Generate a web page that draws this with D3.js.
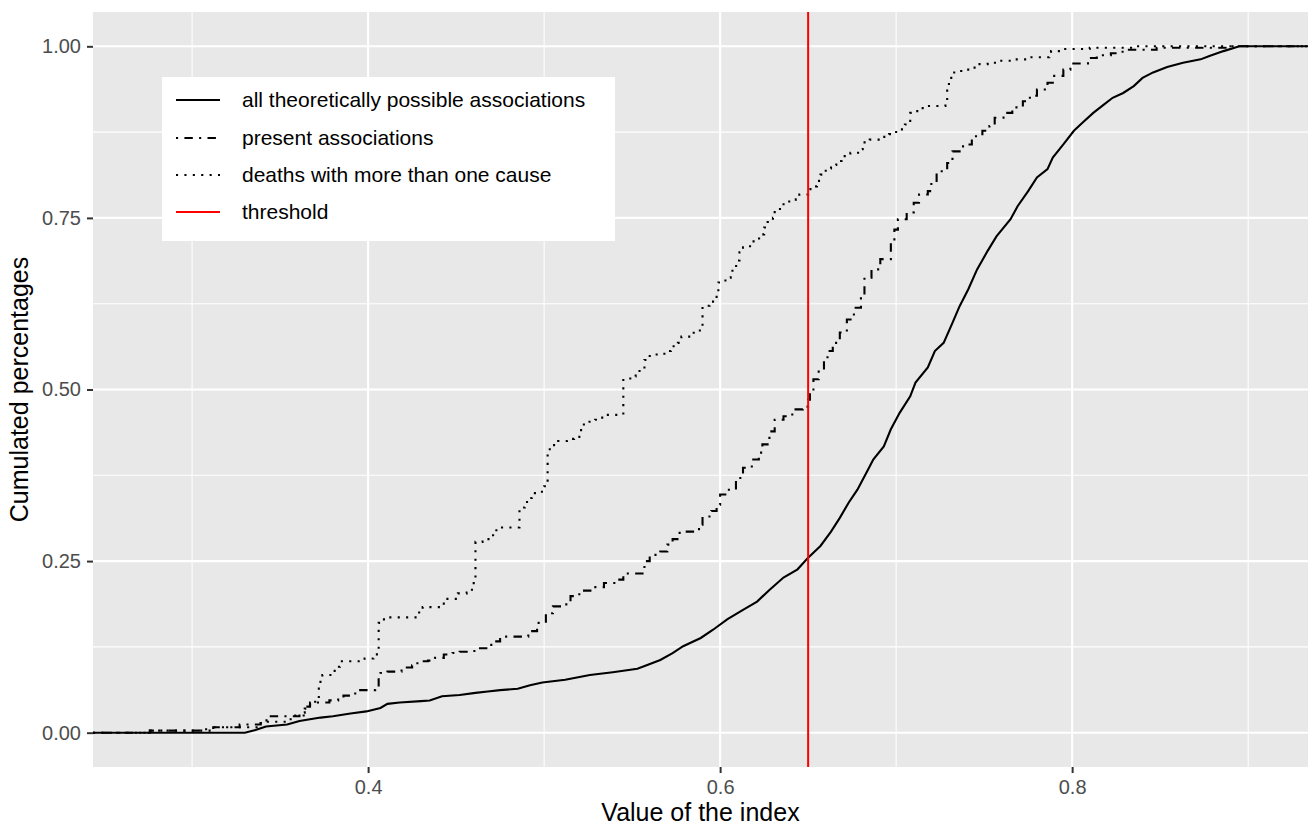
<!DOCTYPE html>
<html>
<head>
<meta charset="utf-8">
<script src="https://cdn.jsdelivr.net/npm/d3@7"></script>
<style>
  body { margin: 0; background: #fff; }
  text { font-family: "Liberation Sans", Arial, Helvetica, sans-serif; }
</style>
</head>
<body>
<script>
// ecdf of the index as [value, cumulated share]
const allAssociations = [
  [0.330,0],[0.336,0.004],[0.342,0.009],[0.354,0.012],[0.361,0.017],[0.373,0.022],[0.380,0.024],
  [0.390,0.028],[0.399,0.031],[0.407,0.036],[0.411,0.042],[0.418,0.044],[0.430,0.046],[0.435,0.047],
  [0.442,0.053],[0.452,0.055],[0.461,0.058],[0.468,0.060],[0.475,0.062],[0.485,0.064],[0.492,0.069],
  [0.499,0.073],[0.512,0.077],[0.526,0.084],[0.539,0.088],[0.553,0.093],[0.559,0.099],[0.566,0.106],
  [0.573,0.116],[0.579,0.126],[0.589,0.138],[0.596,0.150],[0.604,0.165],[0.613,0.179],[0.621,0.191],
  [0.628,0.208],[0.636,0.226],[0.644,0.238],[0.650,0.255],[0.657,0.272],[0.663,0.293],[0.668,0.313],
  [0.673,0.335],[0.678,0.354],[0.684,0.383],[0.687,0.398],[0.693,0.417],[0.697,0.442],[0.702,0.466],
  [0.708,0.490],[0.711,0.510],[0.718,0.532],[0.722,0.556],[0.727,0.568],[0.732,0.597],[0.736,0.621],
  [0.741,0.646],[0.746,0.675],[0.752,0.702],[0.757,0.723],[0.765,0.748],[0.769,0.767],[0.775,0.789],
  [0.780,0.809],[0.786,0.821],[0.789,0.838],[0.795,0.857],[0.801,0.877],[0.806,0.889],[0.812,0.903],
  [0.818,0.915],[0.823,0.925],[0.829,0.932],[0.835,0.942],[0.840,0.954],[0.846,0.962],[0.854,0.970],
  [0.863,0.976],[0.873,0.981],[0.878,0.986],[0.886,0.993],[0.895,1.000]
];

const presentAssociations = [
  [0.276,0.003],[0.305,0.005],[0.312,0.008],[0.327,0.012],[0.339,0.018],[0.344,0.024],[0.361,0.029],
  [0.364,0.038],[0.367,0.044],[0.378,0.047],[0.383,0.051],[0.386,0.054],[0.391,0.057],[0.394,0.062],
  [0.404,0.067],[0.406,0.080],[0.407,0.087],[0.411,0.089],[0.419,0.095],[0.425,0.098],[0.428,0.104],
  [0.434,0.105],[0.438,0.109],[0.443,0.114],[0.448,0.116],[0.452,0.118],[0.458,0.119],[0.462,0.123],
  [0.468,0.128],[0.471,0.133],[0.475,0.140],[0.491,0.148],[0.496,0.160],[0.501,0.174],[0.505,0.184],
  [0.510,0.187],[0.515,0.199],[0.520,0.207],[0.528,0.212],[0.534,0.218],[0.541,0.223],[0.545,0.232],
  [0.557,0.250],[0.560,0.259],[0.566,0.264],[0.570,0.274],[0.573,0.282],[0.577,0.293],[0.588,0.303],
  [0.590,0.315],[0.595,0.323],[0.598,0.332],[0.600,0.347],[0.604,0.354],[0.609,0.371],[0.613,0.386],
  [0.618,0.398],[0.622,0.408],[0.624,0.420],[0.628,0.439],[0.631,0.456],[0.636,0.461],[0.641,0.471],
  [0.647,0.475],[0.650,0.485],[0.651,0.500],[0.653,0.515],[0.656,0.529],[0.659,0.544],[0.661,0.556],
  [0.664,0.568],[0.668,0.583],[0.672,0.602],[0.676,0.619],[0.680,0.636],[0.682,0.663],[0.686,0.675],
  [0.691,0.690],[0.697,0.714],[0.699,0.733],[0.701,0.748],[0.706,0.758],[0.710,0.772],[0.713,0.784],
  [0.718,0.789],[0.720,0.804],[0.723,0.818],[0.729,0.830],[0.732,0.847],[0.738,0.857],[0.743,0.869],
  [0.749,0.877],[0.753,0.884],[0.756,0.896],[0.761,0.903],[0.766,0.911],[0.772,0.920],[0.776,0.928],
  [0.780,0.937],[0.786,0.947],[0.789,0.957],[0.795,0.966],[0.799,0.975],[0.809,0.983],[0.814,0.987],
  [0.822,0.990],[0.827,0.992],[0.831,0.995],[0.848,0.998],[0.890,1.000]
];

const deathsMultiCause = [
  [0.276,0.003],[0.312,0.008],[0.339,0.016],[0.356,0.025],[0.364,0.035],[0.367,0.045],[0.372,0.060],
  [0.372,0.074],[0.374,0.084],[0.381,0.096],[0.384,0.104],[0.398,0.108],[0.403,0.111],[0.405,0.120],
  [0.406,0.160],[0.409,0.168],[0.428,0.175],[0.431,0.183],[0.441,0.185],[0.443,0.195],[0.451,0.203],
  [0.456,0.204],[0.459,0.211],[0.460,0.223],[0.461,0.278],[0.465,0.282],[0.471,0.295],[0.475,0.299],
  [0.486,0.328],[0.489,0.336],[0.492,0.342],[0.493,0.349],[0.498,0.351],[0.500,0.359],[0.502,0.413],
  [0.505,0.419],[0.508,0.425],[0.513,0.428],[0.517,0.431],[0.520,0.438],[0.521,0.449],[0.525,0.453],
  [0.529,0.456],[0.533,0.463],[0.545,0.516],[0.550,0.519],[0.552,0.527],[0.557,0.530],[0.557,0.543],
  [0.560,0.551],[0.565,0.552],[0.569,0.556],[0.572,0.563],[0.576,0.568],[0.578,0.577],[0.583,0.577],
  [0.585,0.586],[0.590,0.595],[0.590,0.622],[0.594,0.628],[0.597,0.635],[0.599,0.644],[0.599,0.656],
  [0.603,0.663],[0.606,0.668],[0.607,0.680],[0.610,0.688],[0.611,0.700],[0.613,0.707],[0.617,0.714],
  [0.619,0.720],[0.623,0.726],[0.625,0.736],[0.627,0.744],[0.630,0.750],[0.631,0.763],[0.634,0.770],
  [0.638,0.774],[0.643,0.777],[0.645,0.784],[0.650,0.792],[0.652,0.796],[0.655,0.804],[0.657,0.813],
  [0.660,0.822],[0.663,0.827],[0.666,0.833],[0.669,0.840],[0.674,0.845],[0.680,0.850],[0.681,0.860],
  [0.685,0.864],[0.691,0.868],[0.696,0.872],[0.700,0.879],[0.705,0.886],[0.708,0.903],[0.712,0.910],
  [0.718,0.913],[0.728,0.918],[0.729,0.940],[0.730,0.954],[0.733,0.964],[0.737,0.966],[0.742,0.969],
  [0.746,0.974],[0.752,0.976],[0.759,0.979],[0.767,0.981],[0.776,0.984],[0.787,0.986],[0.788,0.993],
  [0.795,0.996],[0.810,0.998],[0.835,1.000]
];

const threshold = 0.65;
const xTicks = [0.4, 0.6, 0.8];
const xMinor = [0.3, 0.5, 0.7, 0.9];
const yTicks = [0, 0.25, 0.5, 0.75, 1];
const yMinor = [0.125, 0.375, 0.625, 0.875];
const legendLabels = ['all theoretically possible associations', 'present associations',
  'deaths with more than one cause', 'threshold'];

// constants
const width = 1308;
const height = 825;
const margin = { top: 12, right: 0, bottom: 58, left: 93 };
const lw = 2.1;
const dashes = ['none', `${lw},${3 * lw},${4 * lw},${3 * lw}`, `${lw},${3 * lw}`];

const svg = d3.select('body').append('svg')
  .attr('width', width).attr('height', height);

const xScale = d3.scaleLinear()
  .domain([0.2437, 0.934])
  .range([margin.left, width - margin.right]);

const yScale = d3.scaleLinear()
  .domain([-0.05, 1.05])
  .range([height - margin.bottom, margin.top]);

const [x0, x1] = xScale.domain();

// panel
svg.append('rect')
  .attr('x', margin.left).attr('y', margin.top)
  .attr('width', width - margin.left - margin.right)
  .attr('height', height - margin.top - margin.bottom)
  .attr('fill', '#e8e8e8');

svg.append('clipPath').attr('id', 'panel').append('rect')
  .attr('x', margin.left).attr('y', margin.top)
  .attr('width', width - margin.left - margin.right)
  .attr('height', height - margin.top - margin.bottom);

// grid
const grid = svg.append('g').attr('stroke', '#fff');
grid.selectAll('.vminor').data(xMinor).enter().append('line')
  .attr('x1', d => xScale(d)).attr('x2', d => xScale(d))
  .attr('y1', margin.top).attr('y2', height - margin.bottom).attr('stroke-width', 1.05);
grid.selectAll('.hminor').data(yMinor).enter().append('line')
  .attr('y1', d => yScale(d)).attr('y2', d => yScale(d))
  .attr('x1', margin.left).attr('x2', width - margin.right).attr('stroke-width', 1.05);
grid.selectAll('.vmajor').data(xTicks).enter().append('line')
  .attr('x1', d => xScale(d)).attr('x2', d => xScale(d))
  .attr('y1', margin.top).attr('y2', height - margin.bottom).attr('stroke-width', 2.1);
grid.selectAll('.hmajor').data(yTicks).enter().append('line')
  .attr('y1', d => yScale(d)).attr('y2', d => yScale(d))
  .attr('x1', margin.left).attr('x2', width - margin.right).attr('stroke-width', 2.1);

// ecdf curves, padded to the panel edges like stat_ecdf
const smooth = d3.line().x(d => xScale(d[0])).y(d => yScale(d[1]));
const steps = d3.line().x(d => xScale(d[0])).y(d => yScale(d[1])).curve(d3.curveStepAfter);
const series = [
  { data: allAssociations, line: smooth },
  { data: presentAssociations, line: steps },
  { data: deathsMultiCause, line: steps }
];

const curves = svg.append('g').attr('clip-path', 'url(#panel)');
series.forEach((s, i) => {
  curves.append('path')
    .datum([[x0, 0], ...s.data, [x1, 1]])
    .attr('d', s.line)
    .attr('fill', 'none')
    .attr('stroke', '#000')
    .attr('stroke-width', lw)
    .attr('stroke-dasharray', dashes[i]);
});

// threshold
svg.append('line')
  .attr('x1', xScale(threshold)).attr('x2', xScale(threshold))
  .attr('y1', margin.top).attr('y2', height - margin.bottom)
  .attr('stroke', '#ff0000').attr('stroke-width', 2);

// axes
const xAxis = svg.append('g')
  .attr('transform', `translate(0, ${height - margin.bottom})`)
  .call(d3.axisBottom(xScale).tickValues(xTicks).tickFormat(d3.format('.1f')).tickSize(6).tickPadding(7));

const yAxis = svg.append('g')
  .attr('transform', `translate(${margin.left}, 0)`)
  .call(d3.axisLeft(yScale).tickValues(yTicks).tickFormat(d3.format('.2f')).tickSize(6).tickPadding(6));

[xAxis, yAxis].forEach(a => {
  a.select('.domain').remove();
  a.selectAll('line').attr('stroke', '#333').attr('stroke-width', 2);
  a.selectAll('text').attr('fill', '#4d4d4d').attr('font-size', 20)
    .style('font-family', '"Liberation Sans", Arial, sans-serif');
});

// axis titles
svg.append('text')
  .attr('x', (margin.left + width - margin.right) / 2).attr('y', 821)
  .attr('text-anchor', 'middle').attr('font-size', 25).attr('fill', '#000')
  .text('Value of the index');

svg.append('text')
  .attr('transform', `translate(28, ${(margin.top + height - margin.bottom) / 2}) rotate(-90)`)
  .attr('text-anchor', 'middle').attr('font-size', 25).attr('fill', '#000')
  .text('Cumulated percentages');

// legend
const legend = svg.append('g').attr('transform', 'translate(162, 77)');
legend.append('rect').attr('width', 453).attr('height', 164).attr('fill', '#fff');
const rowY = [23, 61, 98, 135];
legendLabels.forEach((label, i) => {
  legend.append('line')
    .attr('x1', 14).attr('x2', 58).attr('y1', rowY[i]).attr('y2', rowY[i])
    .attr('stroke', i === 3 ? '#ff0000' : '#000')
    .attr('stroke-width', lw)
    .attr('stroke-dasharray', i === 3 ? 'none' : dashes[i]);
  legend.append('text')
    .attr('x', 80).attr('y', rowY[i]).attr('dy', '0.35em')
    .attr('font-size', 21).attr('fill', '#000')
    .text(label);
});
</script>
</body>
</html>
